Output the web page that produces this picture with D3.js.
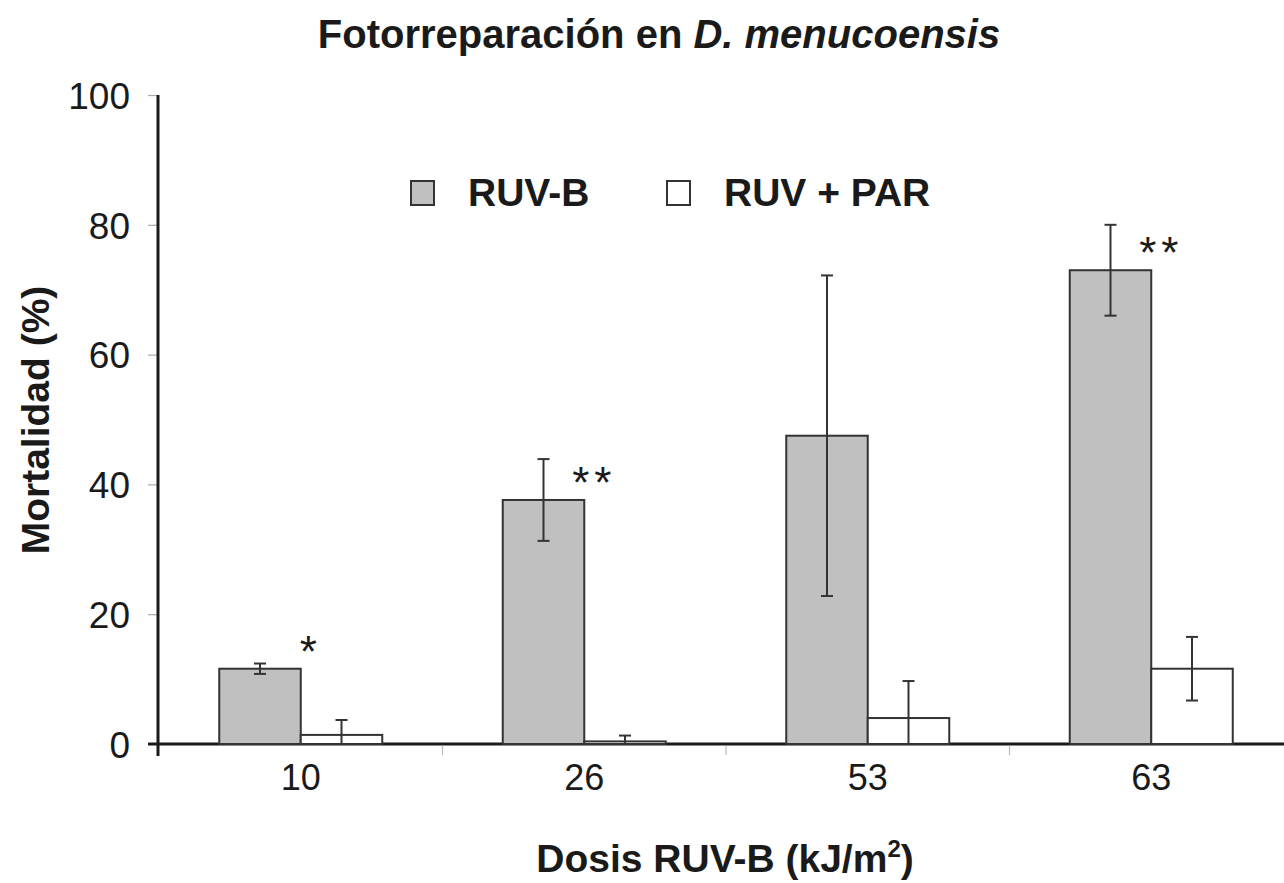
<!DOCTYPE html>
<html>
<head>
<meta charset="utf-8">
<script src="https://cdn.jsdelivr.net/npm/d3@7"></script>
<style>
  html, body { margin: 0; padding: 0; background: #fff; }
  svg { display: block; }
  text { font-family: "Liberation Sans", Arial, Helvetica, sans-serif; fill: #1a1a1a; }
</style>
</head>
<body>
<svg id="chart" width="1284" height="883"></svg>
<script>
// Doses of UV-B (kJ/m²)
const doses = ["10", "26", "53", "63"];
// Mean mortality (%) and error (±) for UV-B only
const ruvB = [11.6, 37.6, 47.5, 73.0];
const ruvBErr = [0.8, 6.3, 24.7, 7.0];
// Mean mortality (%) and error (±) for UV-B followed by PAR (photorepair)
const ruvPar = [1.4, 0.4, 4.0, 11.6];
const ruvParErr = [2.3, 0.9, 5.7, 4.9];
// Significance marks shown beside the UV-B bars
const signif = ["*", "**", "", "**"];
const yTicks = [0, 20, 40, 60, 80, 100];
const seriesNames = ["RUV-B", "RUV + PAR"];
const seriesFill = ["#c0c0c0", "#ffffff"];

const svg = d3.select("#chart");

const x = d3.scaleBand().domain(doses).range([159, 1293]);
const y = d3.scaleLinear().domain([0, 100]).range([744, 95]);
const barW = 81.5;
const ink = "#333";

// Title
const title = svg.append("text")
  .attr("x", 659).attr("y", 48)
  .attr("text-anchor", "middle")
  .style("font-size", "40px").style("font-weight", "bold");
title.append("tspan").text("Fotorreparación en ");
title.append("tspan").style("font-style", "italic").text("D. menucoensis");

// Y axis
const yAxis = svg.append("g").attr("transform", "translate(158,0)")
  .call(d3.axisLeft(y).tickValues(yTicks).tickSize(10).tickPadding(18));
yAxis.select(".domain").remove();
yAxis.selectAll(".tick line").attr("stroke", "#aaa").attr("stroke-width", 1.2);
yAxis.selectAll(".tick text").style("font-size", "37px").attr("fill", "#1a1a1a")
  .attr("dy", "0.36em");
svg.append("line").attr("x1", 158).attr("x2", 158).attr("y1", y(100)).attr("y2", 756)
  .attr("stroke", "#1a1a1a").attr("stroke-width", 3);

// X axis: ticks at category boundaries, labels centred under each group
const xAxis = svg.append("g").attr("transform", "translate(0,744)");
xAxis.selectAll("line.sep").data(doses.slice(1)).join("line")
  .attr("class", "sep")
  .attr("x1", d => x(d)).attr("x2", d => x(d))
  .attr("y1", 2).attr("y2", 11)
  .attr("stroke", "#bbb").attr("stroke-width", 1.2);
xAxis.selectAll("text").data(doses).join("text")
  .attr("x", d => x(d) + x.bandwidth() / 2)
  .attr("y", 46)
  .attr("text-anchor", "middle")
  .style("font-size", "36px")
  .text(d => d);
svg.append("line").attr("x1", 148).attr("x2", 1284).attr("y1", 744).attr("y2", 744)
  .attr("stroke", "#1a1a1a").attr("stroke-width", 3);

// Axis titles
const xt = svg.append("text")
  .attr("x", 725).attr("y", 872)
  .attr("text-anchor", "middle")
  .style("font-size", "39px").style("font-weight", "bold");
xt.append("tspan").text("Dosis RUV-B (kJ/m");
xt.append("tspan").attr("dy", -15).style("font-size", "24px").text("2");
xt.append("tspan").attr("dy", 15).text(")");

svg.append("text")
  .attr("transform", "translate(49,420) rotate(-90)")
  .attr("text-anchor", "middle")
  .style("font-size", "39px").style("font-weight", "bold")
  .text("Mortalidad (%)");

// Bars
const groups = doses.map((d, i) => ({
  dose: d,
  bars: [
    { s: 0, v: ruvB[i], e: ruvBErr[i] },
    { s: 1, v: ruvPar[i], e: ruvParErr[i] }
  ],
  mark: signif[i]
}));

const g = svg.append("g").selectAll("g").data(groups).join("g")
  .attr("transform", d => `translate(${x(d.dose) + x.bandwidth() / 2},0)`);

g.selectAll("rect").data(d => d.bars).join("rect")
  .attr("x", b => (b.s === 0 ? -barW : 0))
  .attr("width", barW)
  .attr("y", b => y(b.v))
  .attr("height", b => y(0) - y(b.v))
  .attr("fill", b => seriesFill[b.s])
  .attr("stroke", ink).attr("stroke-width", 2);

// Error bars (lower whisker clipped at zero)
const eb = g.selectAll("g.err").data(d => d.bars).join("g").attr("class", "err")
  .attr("transform", b => `translate(${b.s === 0 ? -barW / 2 : barW / 2},0)`);
eb.append("line")
  .attr("y1", b => y(b.v + b.e)).attr("y2", b => y(Math.max(0, b.v - b.e)))
  .attr("stroke", ink).attr("stroke-width", 2);
eb.append("line")
  .attr("x1", -6).attr("x2", 6)
  .attr("y1", b => y(b.v + b.e)).attr("y2", b => y(b.v + b.e))
  .attr("stroke", ink).attr("stroke-width", 2);
eb.filter(b => b.v - b.e > 0).append("line")
  .attr("x1", -6).attr("x2", 6)
  .attr("y1", b => y(b.v - b.e)).attr("y2", b => y(b.v - b.e))
  .attr("stroke", ink).attr("stroke-width", 2);

// Significance asterisks
g.append("text")
  .attr("x", 10)
  .attr("y", d => y(d.bars[0].v) - 2)
  .attr("text-anchor", "middle")
  .style("font-size", "44px").style("letter-spacing", "5px").attr("fill", "#333")
  .text(d => d.mark);

// Legend
const legX = [411, 667];
const lg = svg.append("g").selectAll("g").data(seriesNames).join("g")
  .attr("transform", (d, i) => `translate(${legX[i]},181)`);
lg.append("rect").attr("width", 23).attr("height", 24)
  .attr("fill", (d, i) => seriesFill[i]).attr("stroke", ink).attr("stroke-width", 2);
lg.append("text").attr("x", 57).attr("y", 25)
  .style("font-size", "39px").style("font-weight", "bold")
  .text(d => d);
</script>
</body>
</html>
